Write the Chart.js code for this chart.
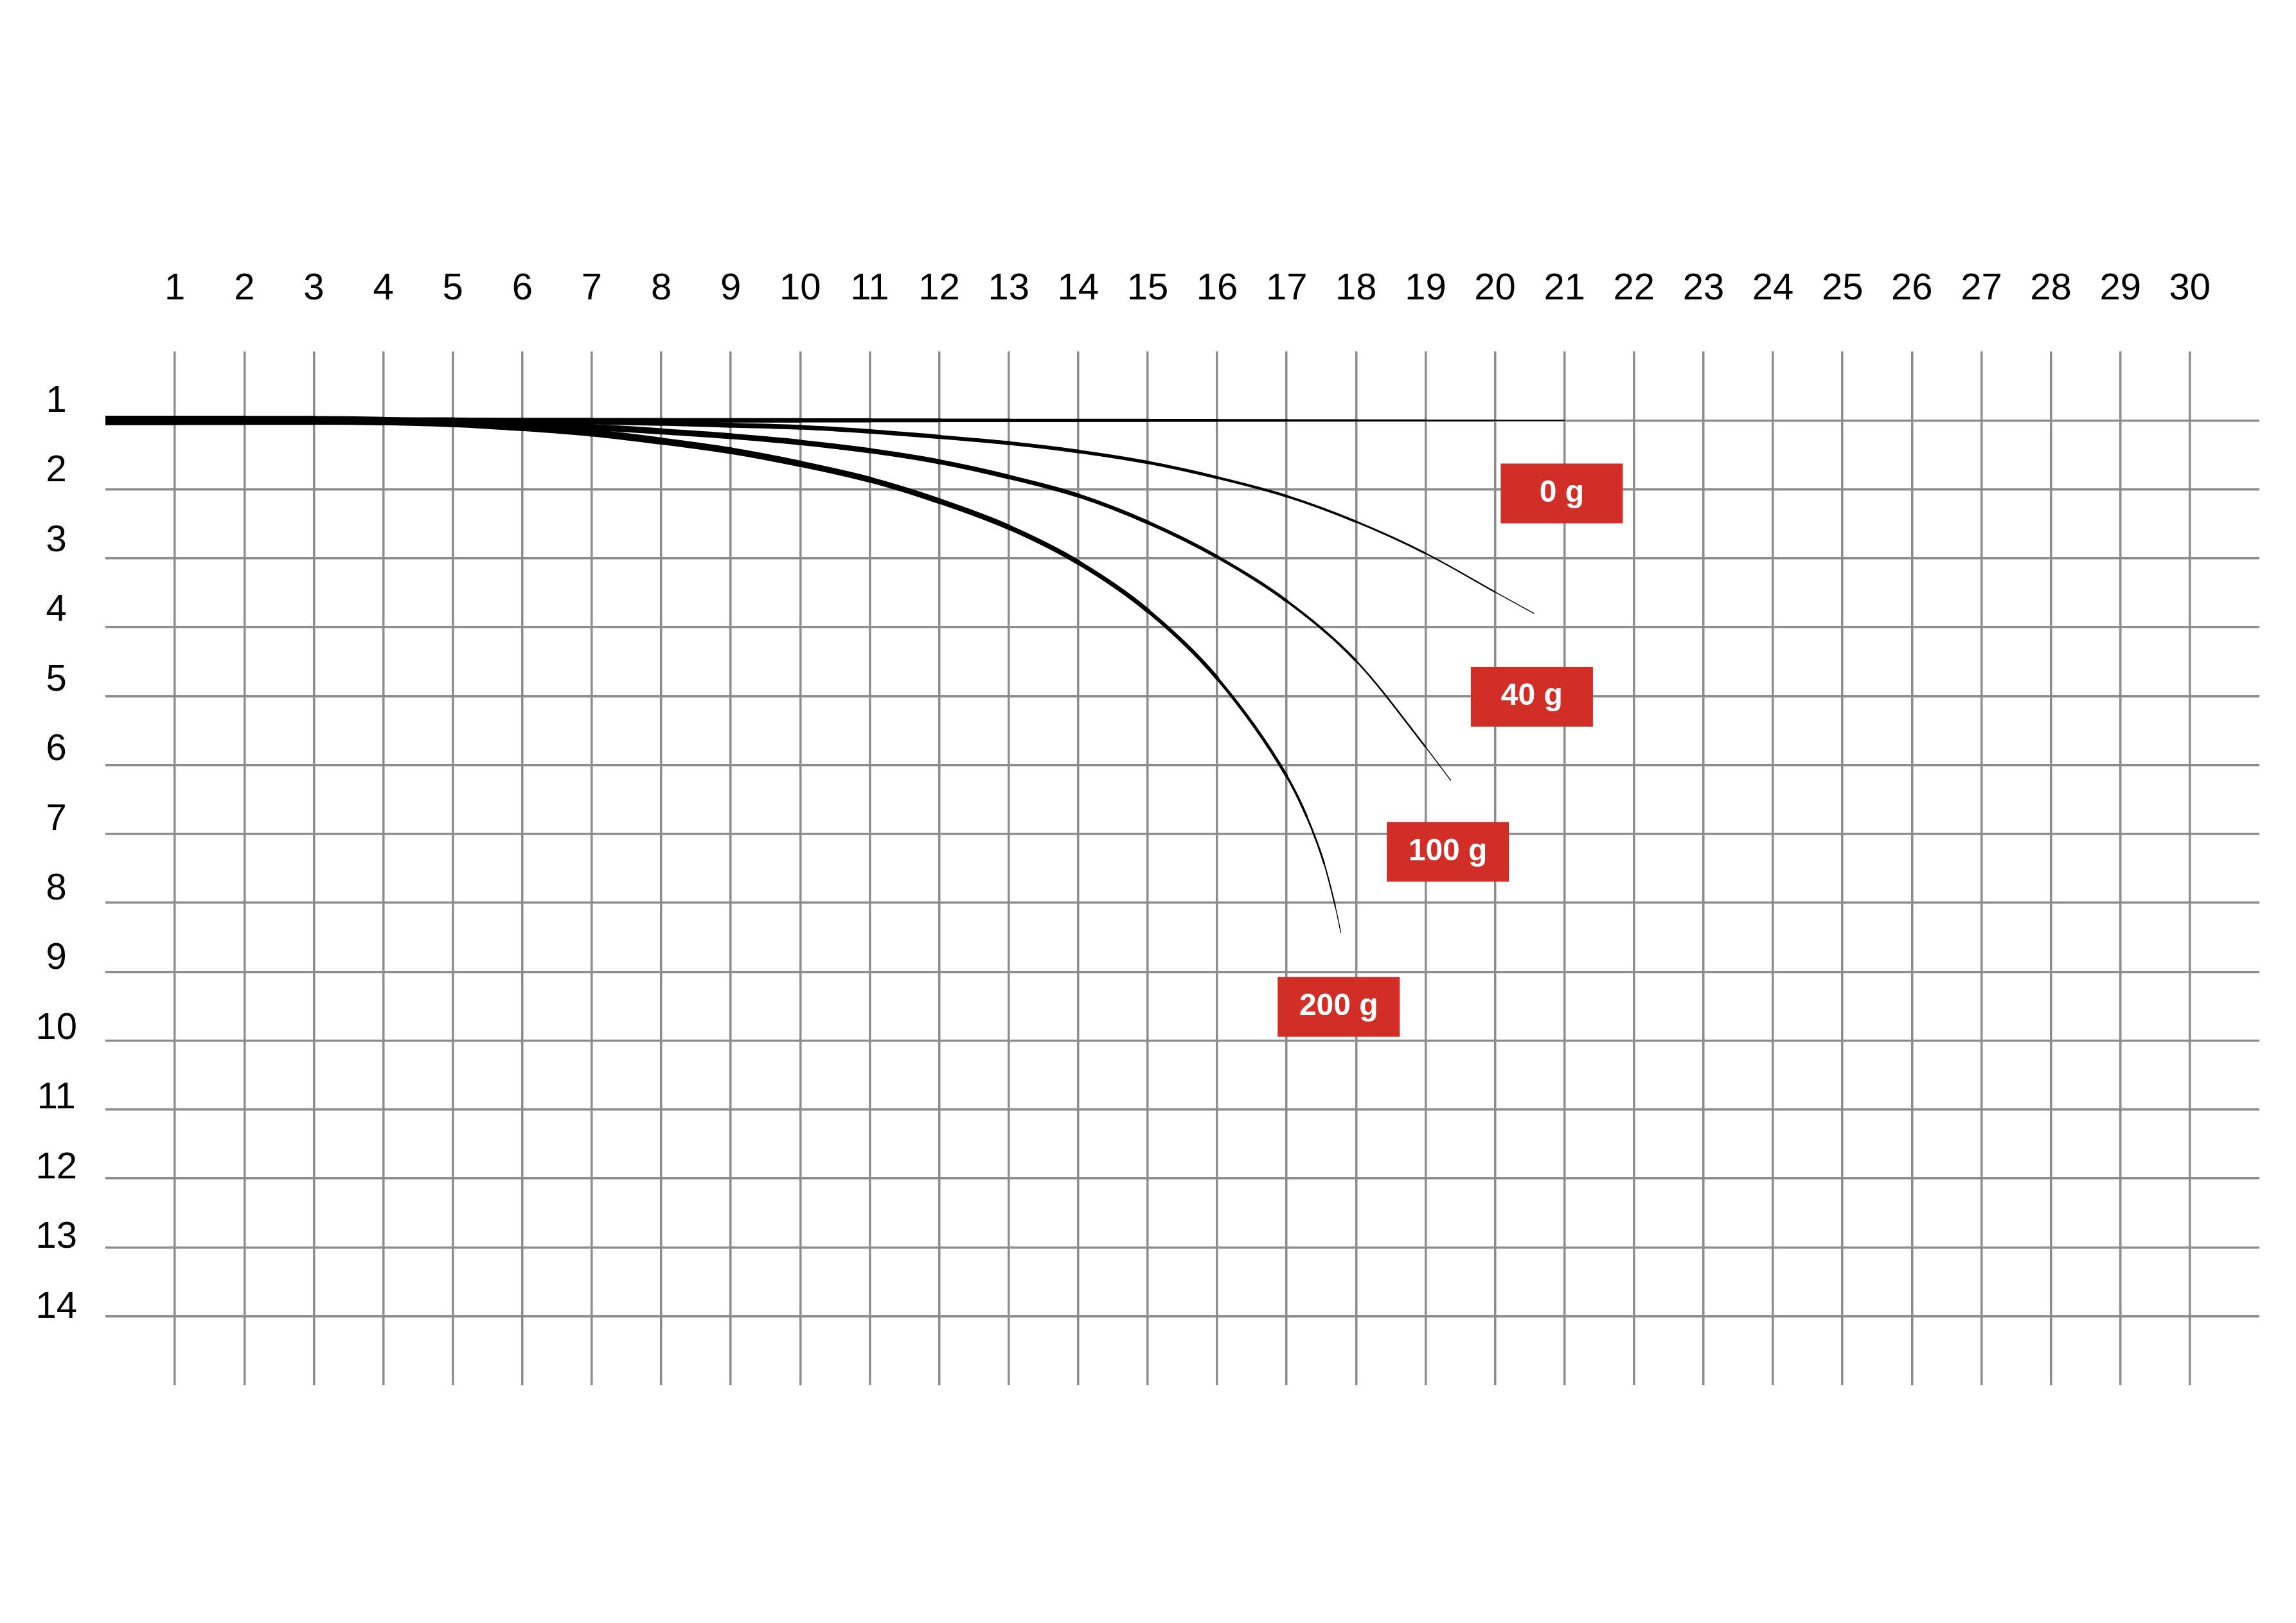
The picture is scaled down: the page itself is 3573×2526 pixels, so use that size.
<!DOCTYPE html>
<html>
<head>
<meta charset="utf-8">
<title>Deflection by load</title>
<script src="https://cdn.jsdelivr.net/npm/chart.js@4.4.1/dist/chart.umd.min.js"></script>
<style>
    html, body { margin: 0; padding: 0; background: #ffffff; }
    #chart { display: block; }
</style>
</head>
<body>
<canvas id="chart" width="3573" height="2526"></canvas>
<script>
// Grid ticks (x along the top, y down the left side)
const xTicks = [1, 2, 3, 4, 5, 6, 7, 8, 9, 10, 11, 12, 13, 14, 15, 16, 17, 18, 19, 20,
    21, 22, 23, 24, 25, 26, 27, 28, 29, 30];
const yTicks = [1, 2, 3, 4, 5, 6, 7, 8, 9, 10, 11, 12, 13, 14];

// Curves
const x0g = [0, 1, 2, 3, 4, 5, 6, 7, 8, 9, 10, 11, 12, 13, 14, 15, 16, 17, 18, 19, 20, 21];
const y0g = [1, 1, 1, 1, 1, 1, 1, 1, 1, 1, 1, 1, 1, 1, 1, 1, 1, 1, 1, 1, 1, 1];

const x40g = [0, 1, 2, 3, 4, 5, 6, 7, 8, 9, 10, 11, 12, 13, 14, 15, 16, 17, 18, 19, 20, 20.56];
const y40g = [1, 1, 1, 1, 1, 1, 1.01, 1.02, 1.04, 1.07, 1.10, 1.16, 1.24, 1.33, 1.45, 1.61,
    1.83, 2.10, 2.47, 2.93, 3.49, 3.80];

const x100g = [0, 1, 2, 3, 4, 5, 6, 7, 8, 9, 10, 11, 12, 13, 14, 15, 16, 17, 18, 19, 19.36];
const y100g = [1, 1, 1, 1, 1.01, 1.03, 1.06, 1.10, 1.16, 1.23, 1.32, 1.44, 1.60, 1.82, 2.09,
    2.48, 2.98, 3.62, 4.49, 5.74, 6.22];

const x200g = [0, 1, 2, 3, 4, 5, 6, 7, 8, 9, 10, 11, 12, 13, 14, 15, 16, 17, 17.29, 17.54,
    17.70, 17.78];
const y200g = [1, 1, 1, 1, 1.01, 1.04, 1.10, 1.18, 1.30, 1.44, 1.63, 1.86, 2.17, 2.55, 3.06,
    3.76, 4.74, 6.16, 6.75, 7.43, 8.05, 8.43];

// Red tags
const labelText = ['0 g', '40 g', '100 g', '200 g'];
const labelX = [20.96, 20.53, 19.32, 17.75];
const labelY = [2.06, 5.01, 7.26, 9.51];

const FONT = '"Liberation Sans", Arial, Helvetica, sans-serif';
const GRID = '#8c8c8c';
const RED = '#d12e27';

// fraction of the path length reached at each point (used to taper the stroke)
function pathFractions(xs, ys) {
    const acc = [0];
    for (let i = 1; i < xs.length; i++) {
        acc.push(acc[i - 1] + Math.hypot(xs[i] - xs[i - 1], ys[i] - ys[i - 1]));
    }
    const total = acc[acc.length - 1];
    return acc.map(v => v / total);
}

function curve(xs, ys, wStart, wEnd) {
    const frac = pathFractions(xs, ys);
    return {
        data: xs.map((x, i) => ({ x: x, y: ys[i] })),
        borderColor: '#000000',
        borderWidth: wStart,
        borderCapStyle: 'round',
        borderJoinStyle: 'round',
        pointRadius: 0,
        cubicInterpolationMode: 'monotone',
        segment: {
            borderWidth: ctx => {
                const f = (frac[ctx.p0DataIndex] + frac[ctx.p1DataIndex]) / 2;
                return wEnd + (wStart - wEnd) * Math.pow(1 - f, 0.7);
            }
        }
    };
}

const tagPlugin = {
    id: 'tags',
    afterDatasetsDraw(chart) {
        const { ctx, scales: { x, y } } = chart;
        ctx.save();
        ctx.font = 'bold 48px ' + FONT;
        ctx.textAlign = 'center';
        ctx.textBaseline = 'alphabetic';
        labelText.forEach((text, i) => {
            const cx = x.getPixelForValue(labelX[i]);
            const cy = y.getPixelForValue(labelY[i]);
            ctx.fillStyle = RED;
            ctx.fillRect(cx - 95, cy - 46.5, 190, 93);
            ctx.fillStyle = '#ffffff';
            ctx.fillText(text, cx, cy + 13);
        });
        ctx.restore();
    }
};

new Chart(document.getElementById('chart'), {
    type: 'line',
    data: {
        datasets: [
            curve(x0g, y0g, 10, 0.8),
            curve(x40g, y40g, 11, 0.8),
            curve(x100g, y100g, 13, 0.8),
            curve(x200g, y200g, 15, 0.8)
        ]
    },
    options: {
        responsive: false,
        devicePixelRatio: 1,
        animation: false,
        layout: {
            padding: { left: 14, right: 57, top: 397, bottom: 370 }
        },
        plugins: {
            legend: { display: false },
            tooltip: { enabled: false }
        },
        scales: {
            x: {
                type: 'linear',
                position: 'top',
                min: 0,
                max: 31,
                afterBuildTicks: scale => { scale.ticks = xTicks.map(v => ({ value: v })); },
                afterFit: scale => { scale.height = 150; },
                border: { display: false },
                grid: { color: GRID, lineWidth: 3.5, drawTicks: false },
                ticks: {
                    color: '#000000',
                    padding: 62,
                    maxRotation: 0,
                    autoSkip: false,
                    font: { family: FONT, size: 58 }
                }
            },
            // grid rows only; the numbers sit on their own axis below
            y: {
                type: 'linear',
                position: 'left',
                reverse: true,
                min: 0,
                max: 15,
                afterBuildTicks: scale => { scale.ticks = yTicks.map(v => ({ value: v })); },
                afterFit: scale => { scale.width = 0; },
                border: { display: false },
                grid: { color: GRID, lineWidth: 3.5, drawTicks: false },
                ticks: { display: false }
            },
            // row numbers, set a little above each grid row and drifting slightly like the original
            yLabels: {
                type: 'linear',
                position: 'left',
                reverse: true,
                min: 0.28,
                max: 15.12,
                afterBuildTicks: scale => { scale.ticks = yTicks.map(v => ({ value: v })); },
                afterFit: scale => { scale.width = 150; },
                border: { display: false },
                grid: { display: false, drawTicks: false },
                ticks: {
                    color: '#000000',
                    padding: 44,
                    crossAlign: 'center',
                    autoSkip: false,
                    font: { family: FONT, size: 58 }
                }
            }
        }
    },
    plugins: [tagPlugin]
});
</script>
</body>
</html>
